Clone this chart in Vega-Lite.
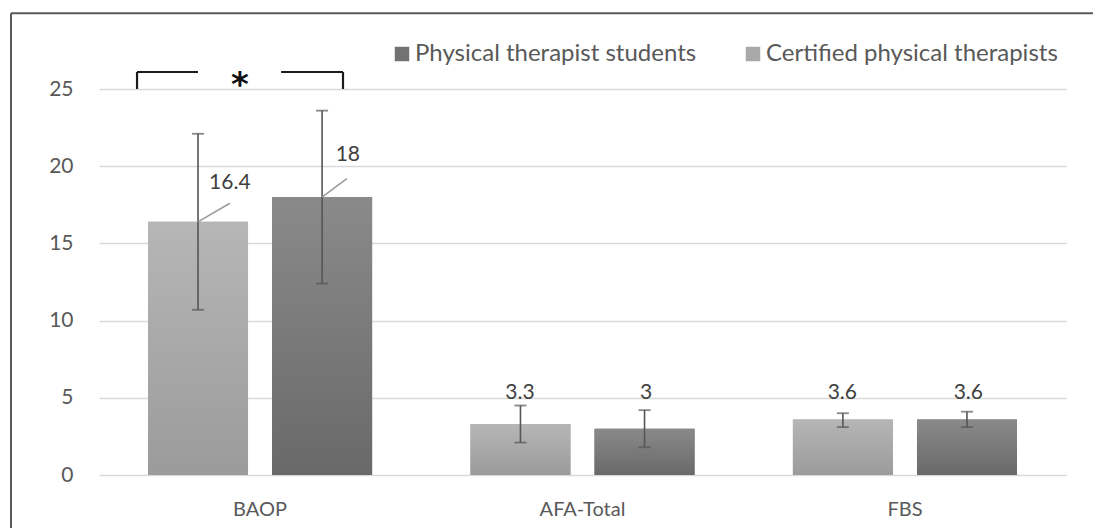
{
  "$schema": "https://vega.github.io/schema/vega-lite/v6.json",
  "width": 967,
  "height": 386,
  "autosize": {"type": "none"},
  "padding": {"left": 99, "top": 89, "right": 27, "bottom": 53},
  "background": "white",
  "config": {"view": {"stroke": null}, "font": "Lato"},
  "datasets": {
    "main": [
      {"category": "BAOP", "group": "Certified physical therapists", "value": 16.4, "low": 10.7, "high": 22.1},
      {"category": "BAOP", "group": "Physical therapist students", "value": 18, "low": 12.4, "high": 23.6},
      {"category": "AFA-Total", "group": "Certified physical therapists", "value": 3.3, "low": 2.1, "high": 4.5},
      {"category": "AFA-Total", "group": "Physical therapist students", "value": 3, "low": 1.8, "high": 4.2},
      {"category": "FBS", "group": "Certified physical therapists", "value": 3.6, "low": 3.1, "high": 4.0},
      {"category": "FBS", "group": "Physical therapist students", "value": 3.6, "low": 3.1, "high": 4.1}
    ],
    "labels": [
      {"lx": 0.406, "ly": 18.9, "text": "16.4"},
      {"lx": 0.772, "ly": 20.7, "text": "18"},
      {"lx": 1.306, "ly": 5.31, "text": "3.3"},
      {"lx": 1.697, "ly": 5.31, "text": "3"},
      {"lx": 2.306, "ly": 5.31, "text": "3.6"},
      {"lx": 2.697, "ly": 5.31, "text": "3.6"}
    ],
    "leaders": [
      {"x": 0.307, "y": 16.4, "x2": 0.406, "y2": 17.6},
      {"x": 0.692, "y": 18, "x2": 0.769, "y2": 19.2}
    ],
    "bracket": [
      {"x": 0.118, "x2": 0.307, "y": 26.1, "y2": 26.1},
      {"x": 0.565, "x2": 0.757, "y": 26.1, "y2": 26.1},
      {"x": 0.118, "x2": 0.118, "y": 25, "y2": 26.1},
      {"x": 0.757, "x2": 0.757, "y": 25, "y2": 26.1}
    ],
    "frame": [
      {"x": -0.273, "x2": 3.2, "y": 29.9, "y2": 29.9},
      {"x": -0.273, "x2": -0.273, "y": -4, "y2": 29.9}
    ],
    "star": [{"x": 0.437, "y": 25.6, "text": "*"}]
  },
  "layer": [
    {
      "data": {"name": "main"},
      "encoding": {
        "x": {
          "field": "category", "type": "nominal", "sort": ["BAOP", "AFA-Total", "FBS"],
          "scale": {"paddingInner": 0.305, "paddingOuter": 0.152},
          "axis": {"title": null, "domain": false, "ticks": false, "labelAngle": 0, "labelFontSize": 20, "labelColor": "#595959", "labelPadding": 24, "labelFont": "Lato"}
        },
        "xOffset": {
          "field": "group", "type": "nominal", "sort": ["Certified physical therapists", "Physical therapist students"],
          "scale": {"paddingInner": 0.194, "paddingOuter": 0}
        }
      },
      "layer": [
        {
          "mark": {"type": "bar"},
          "encoding": {
            "y": {
              "field": "value", "type": "quantitative",
              "scale": {"domain": [0, 25], "nice": false},
              "axis": {"title": null, "values": [0, 5, 10, 15, 20, 25], "domain": false, "ticks": false, "grid": true, "gridColor": "#d9d9d9", "gridWidth": 1.5, "labelFontSize": 21, "labelColor": "#595959", "labelPadding": 26, "labelFont": "Lato"}
            },
            "color": {
              "field": "group", "type": "nominal",
              "scale": {"domain": ["Physical therapist students", "Certified physical therapists"], "range": ["#727272", "#a9a9a9"]},
              "legend": {
                "title": null, "orient": "none", "legendX": 291, "legendY": -47, "direction": "horizontal",
                "symbolType": "square", "symbolSize": 210, "symbolStrokeWidth": 0, "labelFontSize": 24, "labelColor": "#595959",
                "labelFont": "Lato", "labelOffset": 1, "columnPadding": 44, "labelLimit": 500
              }
            }
          }
        },
        {
          "transform": [{"filter": "datum.group === 'Certified physical therapists'"}],
          "mark": {"type": "bar", "fill": {"gradient": "linear", "x1": 0, "y1": 0, "x2": 0, "y2": 1, "stops": [{"offset": 0, "color": "#b6b6b6"}, {"offset": 1, "color": "#9b9b9b"}]}},
          "encoding": {"y": {"field": "value", "type": "quantitative"}}
        },
        {
          "transform": [{"filter": "datum.group === 'Physical therapist students'"}],
          "mark": {"type": "bar", "fill": {"gradient": "linear", "x1": 0, "y1": 0, "x2": 0, "y2": 1, "stops": [{"offset": 0, "color": "#8a8a8a"}, {"offset": 1, "color": "#696969"}]}},
          "encoding": {"y": {"field": "value", "type": "quantitative"}}
        },
        {
          "mark": {"type": "rule", "color": "#555555", "strokeWidth": 1.6},
          "encoding": {"y": {"field": "low", "type": "quantitative"}, "y2": {"field": "high"}}
        },
        {
          "mark": {"type": "tick", "color": "#555555", "thickness": 1.8, "size": 12, "orient": "horizontal"},
          "encoding": {"y": {"field": "low", "type": "quantitative"}}
        },
        {
          "mark": {"type": "tick", "color": "#555555", "thickness": 1.8, "size": 12, "orient": "horizontal"},
          "encoding": {"y": {"field": "high", "type": "quantitative"}}
        }
      ]
    },
    {
      "layer": [
        {
          "data": {"name": "leaders"},
          "mark": {"type": "rule", "color": "#9a9a9a", "strokeWidth": 1.5},
          "encoding": {
            "x": {"field": "x", "type": "quantitative", "scale": {"domain": [0, 3], "nice": false, "zero": false}, "axis": null},
            "x2": {"field": "x2"},
            "y": {"field": "y", "type": "quantitative"},
            "y2": {"field": "y2"}
          }
        },
        {
          "data": {"name": "bracket"},
          "mark": {"type": "rule", "color": "#1a1a1a", "strokeWidth": 2.2},
          "encoding": {
            "x": {"field": "x", "type": "quantitative", "scale": {"domain": [0, 3], "nice": false, "zero": false}, "axis": null},
            "x2": {"field": "x2"},
            "y": {"field": "y", "type": "quantitative"},
            "y2": {"field": "y2"}
          }
        },
        {
          "data": {"name": "frame"},
          "mark": {"type": "rule", "color": "#5a5a5a", "strokeWidth": 2},
          "encoding": {
            "x": {"field": "x", "type": "quantitative", "scale": {"domain": [0, 3], "nice": false, "zero": false}, "axis": null},
            "x2": {"field": "x2"},
            "y": {"field": "y", "type": "quantitative"},
            "y2": {"field": "y2"}
          }
        },
        {
          "data": {"name": "labels"},
          "mark": {"type": "text", "fontSize": 21, "color": "#404040", "font": "Lato", "baseline": "middle", "align": "center"},
          "encoding": {
            "x": {"field": "lx", "type": "quantitative", "scale": {"domain": [0, 3], "nice": false, "zero": false}, "axis": null},
            "y": {"field": "ly", "type": "quantitative"},
            "text": {"field": "text"}
          }
        },
        {
          "data": {"name": "star"},
          "mark": {"type": "text", "fontSize": 34, "fontWeight": "bold", "color": "#111111", "font": "DejaVu Sans", "baseline": "middle", "align": "center", "dy": 6},
          "encoding": {
            "x": {"field": "x", "type": "quantitative", "scale": {"domain": [0, 3], "nice": false, "zero": false}, "axis": null},
            "y": {"field": "y", "type": "quantitative"},
            "text": {"field": "text"}
          }
        }
      ]
    }
  ],
  "resolve": {"scale": {"x": "independent"}}
}
